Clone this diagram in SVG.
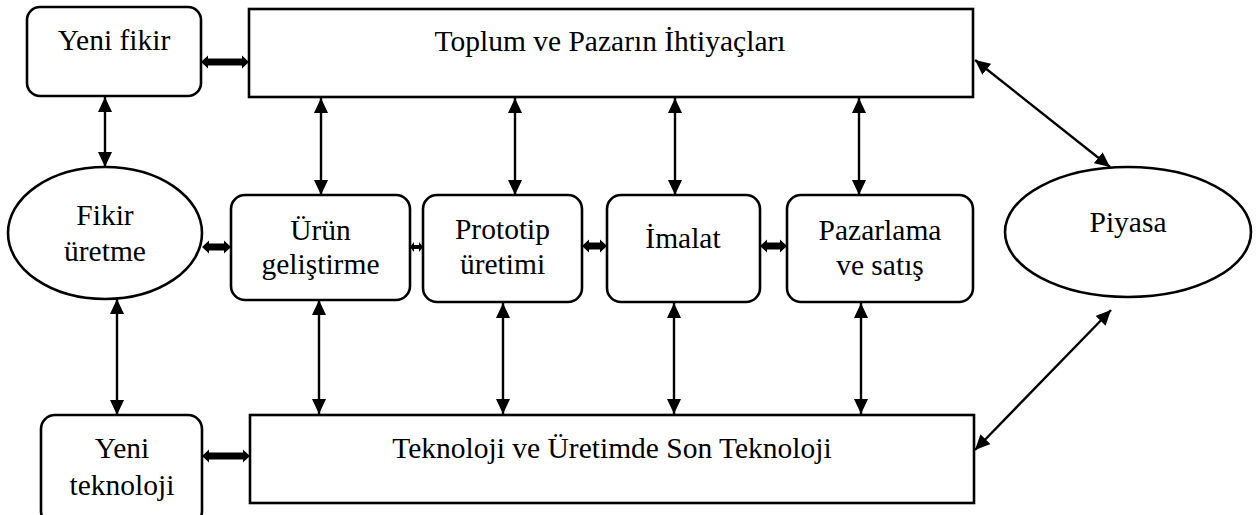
<svg xmlns="http://www.w3.org/2000/svg" width="1258" height="515" viewBox="0 0 1258 515">
  <style>
    .box { fill: #fff; stroke: #000; stroke-width: 2.6; }
    .lbl { font-family: "Liberation Serif", "Times New Roman", serif; font-size: 29.5px; fill: #000; text-anchor: middle; }
    .link { stroke: #000; stroke-width: 2.4; fill: none; marker-start: url(#head); marker-end: url(#head); }
    .fat { fill: #000; stroke: none; }
  </style>
  <defs>
    <marker id="head" markerUnits="userSpaceOnUse" markerWidth="15" markerHeight="14" refX="15" refY="7" orient="auto-start-reverse">
      <path d="M0,0 L15,7 L0,14 z" fill="#000"/>
    </marker>
  </defs>
  <rect width="1258" height="515" fill="#fff"/>

  <!-- Connectors -->
  <g id="connectors">
    <!-- vertical links: needs row to stage row -->
    <line class="link" x1="105" y1="97" x2="105" y2="167"/>
    <line class="link" x1="321" y1="98" x2="321" y2="195"/>
    <line class="link" x1="515" y1="98" x2="515" y2="195"/>
    <line class="link" x1="675" y1="98" x2="675" y2="195"/>
    <line class="link" x1="859" y1="98" x2="859" y2="195"/>
    <!-- vertical links: stage row to technology row -->
    <line class="link" x1="117" y1="299" x2="117" y2="415"/>
    <line class="link" x1="319" y1="300" x2="319" y2="414"/>
    <line class="link" x1="503" y1="303" x2="503" y2="414"/>
    <line class="link" x1="674" y1="303" x2="674" y2="414"/>
    <line class="link" x1="861" y1="303" x2="861" y2="414"/>
    <!-- diagonal links to Piyasa -->
    <line class="link" x1="975" y1="60" x2="1110" y2="167"/>
    <line class="link" x1="975" y1="450" x2="1111" y2="310"/>
    <!-- thick horizontal double arrows -->
    <polygon class="fat" points="201,62 208,55.5 208,58.5 242,58.5 242,55.5 249,62 242,68.5 242,65.5 208,65.5 208,68.5"/>
    <polygon class="fat" points="202,247 209,240.5 209,243.5 224,243.5 224,240.5 231,247 224,253.5 224,250.5 209,250.5 209,253.5"/>
    <polygon class="fat" points="410,247 414,242 414,245 419,245 419,242 423,247 419,252 419,249 414,249 414,252"/>
    <polygon class="fat" points="582,246 589,239.5 589,242.5 600,242.5 600,239.5 607,246 600,252.5 600,249.5 589,249.5 589,252.5"/>
    <polygon class="fat" points="760,246 767,239.5 767,242.5 780,242.5 780,239.5 787,246 780,252.5 780,249.5 767,249.5 767,252.5"/>
    <polygon class="fat" points="202,456 209,449.5 209,452.5 243,452.5 243,449.5 250,456 243,462.5 243,459.5 209,459.5 209,462.5"/>
  </g>

  <g id="yeni-fikir">
    <rect class="box" x="27" y="7" width="174" height="89" rx="13"/>
    <text class="lbl" x="114" y="50">Yeni fikir</text>
  </g>

  <g id="toplum">
    <rect class="box" x="249" y="9" width="724" height="88"/>
    <text class="lbl" x="610" y="51">Toplum ve Pazarın İhtiyaçları</text>
  </g>

  <g id="fikir-uretme">
    <ellipse class="box" cx="105" cy="233" rx="97" ry="66"/>
    <text class="lbl" x="105" y="225">Fikir</text>
    <text class="lbl" x="105" y="261">üretme</text>
  </g>

  <g id="urun-gelistirme">
    <rect class="box" x="231" y="195" width="179" height="105" rx="14"/>
    <text class="lbl" x="320.5" y="240">Ürün</text>
    <text class="lbl" x="320.5" y="274">geliştirme</text>
  </g>

  <g id="prototip">
    <rect class="box" x="423" y="195" width="159" height="107" rx="14"/>
    <text class="lbl" x="502.5" y="239">Prototip</text>
    <text class="lbl" x="502.5" y="274">üretimi</text>
  </g>

  <g id="imalat">
    <rect class="box" x="607" y="195" width="153" height="107" rx="14"/>
    <text class="lbl" x="683" y="248">İmalat</text>
  </g>

  <g id="pazarlama">
    <rect class="box" x="787" y="195" width="186" height="107" rx="14"/>
    <text class="lbl" x="880" y="240">Pazarlama</text>
    <text class="lbl" x="880" y="275">ve satış</text>
  </g>

  <g id="piyasa">
    <ellipse class="box" cx="1128" cy="232" rx="123" ry="65"/>
    <text class="lbl" x="1128" y="232">Piyasa</text>
  </g>

  <g id="teknoloji">
    <rect class="box" x="250" y="415" width="724" height="88"/>
    <text class="lbl" x="612" y="458">Teknoloji ve Üretimde Son Teknoloji</text>
  </g>

  <g id="yeni-teknoloji">
    <rect class="box" x="41" y="415" width="161" height="110" rx="14"/>
    <text class="lbl" x="122" y="458">Yeni</text>
    <text class="lbl" x="122" y="495">teknoloji</text>
  </g>
</svg>
